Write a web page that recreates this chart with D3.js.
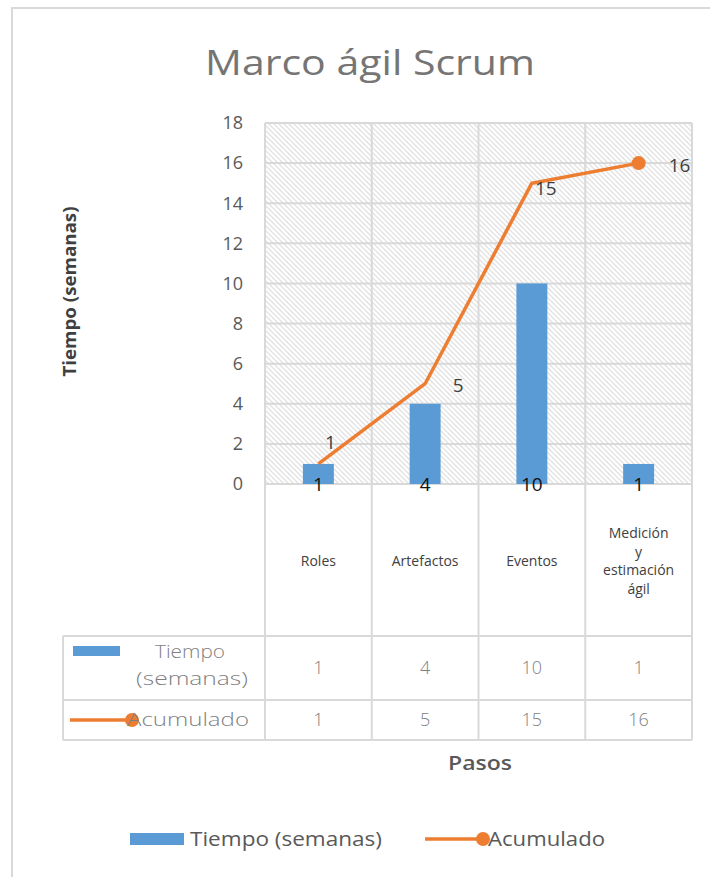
<!DOCTYPE html>
<html>
<head>
<meta charset="utf-8">
<script src="https://cdn.jsdelivr.net/npm/d3@7"></script>
<style>
  body { margin: 0; background: #fff; }
  text { font-family: "Open Sans", "Noto Sans", sans-serif; }
</style>
</head>
<body>
<div id="chart"></div>
<script>
// Data
const categories = ["Roles", "Artefactos", "Eventos", "Medición y estimación ágil"];
const tiempo = [1, 4, 10, 1];
const acumulado = [1, 5, 15, 16];
const yTicks = [0, 2, 4, 6, 8, 10, 12, 14, 16, 18];

// Label nudges for the line labels (as placed in the original)
const lineLabelOffset = [[12, -22], [33, 2], [14, 5], [41, 2]];

const width = 710;
const height = 877;
const blue = "#5B9BD5";
const orange = "#ED7D31";
const grid = "#d9d9d9";

const plot = { left: 265, right: 692, top: 123, bottom: 484 };

const svg = d3.select("#chart")
    .append("svg")
    .attr("width", width)
    .attr("height", height);

// Hatch pattern for the plot area
const defs = svg.append("defs");
const pat = defs.append("pattern")
    .attr("id", "hatch")
    .attr("patternUnits", "userSpaceOnUse")
    .attr("width", 5)
    .attr("height", 5);
pat.append("rect").attr("width", 5).attr("height", 5).attr("fill", "#fff");
pat.append("path")
    .attr("d", "M-1,-1 L6,6 M-1,4 L1,6 M4,-1 L6,1")
    .attr("stroke", "#e2e2e2")
    .attr("stroke-width", 1.3);

// Chart frame
svg.append("rect")
    .attr("x", 12).attr("y", 8)
    .attr("width", 720).attr("height", 900)
    .attr("fill", "#fff")
    .attr("stroke", "#d9d9d9")
    .attr("stroke-width", 2);

// Title
svg.append("text")
    .attr("x", 370)
    .attr("y", 75)
    .attr("text-anchor", "middle")
    .attr("textLength", 330)
    .attr("lengthAdjust", "spacingAndGlyphs")
    .style("font-size", "35px")
    .style("fill", "#757575")
    .text("Marco ágil Scrum");

// Scales
const x = d3.scaleBand()
    .domain(categories)
    .range([plot.left, plot.right])
    .padding(0);

const y = d3.scaleLinear()
    .domain([0, 18])
    .range([plot.bottom, plot.top]);

// Plot background
svg.append("rect")
    .attr("x", plot.left)
    .attr("y", plot.top)
    .attr("width", plot.right - plot.left)
    .attr("height", plot.bottom - plot.top)
    .attr("fill", "url(#hatch)");

// Horizontal gridlines
svg.append("g")
    .selectAll("line")
    .data(yTicks)
    .enter()
    .append("line")
    .attr("x1", plot.left)
    .attr("x2", plot.right)
    .attr("y1", d => y(d))
    .attr("y2", d => y(d))
    .attr("stroke", grid)
    .attr("stroke-width", 2);

// Vertical lines between categories (run through the table header too)
const tableTop = 636, row1 = 700, tableBottom = 740, tableLeft = 63;
const edges = categories.map(d => x(d)).concat([plot.right]);
svg.append("g")
    .selectAll("line")
    .data(edges)
    .enter()
    .append("line")
    .attr("x1", d => d)
    .attr("x2", d => d)
    .attr("y1", plot.top)
    .attr("y2", tableBottom)
    .attr("stroke", grid)
    .attr("stroke-width", 2);

// Table horizontal lines
svg.append("g")
    .selectAll("line")
    .data([tableTop, row1, tableBottom])
    .enter()
    .append("line")
    .attr("x1", tableLeft)
    .attr("x2", plot.right)
    .attr("y1", d => d)
    .attr("y2", d => d)
    .attr("stroke", grid)
    .attr("stroke-width", 2);
svg.append("line")
    .attr("x1", tableLeft).attr("x2", tableLeft)
    .attr("y1", tableTop).attr("y2", tableBottom)
    .attr("stroke", grid).attr("stroke-width", 2);

// Y tick labels
svg.append("g")
    .selectAll("text")
    .data(yTicks)
    .enter()
    .append("text")
    .attr("x", 243)
    .attr("y", d => y(d))
    .attr("dy", "0.35em")
    .attr("text-anchor", "end")
    .style("font-size", "18px")
    .style("fill", "#595959")
    .text(d => d);

// Y axis title
svg.append("text")
    .attr("transform", `translate(76, ${(plot.top + plot.bottom) / 2 - 12}) rotate(-90)`)
    .attr("text-anchor", "middle")
    .attr("textLength", 170)
    .attr("lengthAdjust", "spacingAndGlyphs")
    .style("font-size", "18px")
    .style("font-weight", "bold")
    .style("fill", "#404040")
    .text("Tiempo (semanas)");

// Bars
const barW = x.bandwidth() * 0.29;
svg.append("g")
    .selectAll("rect")
    .data(tiempo)
    .enter()
    .append("rect")
    .attr("x", (d, i) => x(categories[i]) + x.bandwidth() / 2 - barW / 2)
    .attr("y", d => y(d))
    .attr("width", barW)
    .attr("height", d => y(0) - y(d))
    .attr("fill", blue);

// Bar labels at the base
svg.append("g")
    .selectAll("text")
    .data(tiempo)
    .enter()
    .append("text")
    .attr("x", (d, i) => x(categories[i]) + x.bandwidth() / 2)
    .attr("y", y(0))
    .attr("dy", "0.35em")
    .attr("text-anchor", "middle")
    .style("font-size", "19px")
    .style("fill", "#111")
    .text(d => d);

// Line
const line = d3.line()
    .x((d, i) => x(categories[i]) + x.bandwidth() / 2)
    .y(d => y(d));

svg.append("path")
    .datum(acumulado)
    .attr("d", line)
    .attr("fill", "none")
    .attr("stroke", orange)
    .attr("stroke-width", 3.5)
    .attr("stroke-linejoin", "round");

// Marker only on the last point
const last = acumulado.length - 1;
svg.append("circle")
    .attr("cx", x(categories[last]) + x.bandwidth() / 2)
    .attr("cy", y(acumulado[last]))
    .attr("r", 7)
    .attr("fill", orange);

// Line labels
svg.append("g")
    .selectAll("text")
    .data(acumulado)
    .enter()
    .append("text")
    .attr("x", (d, i) => x(categories[i]) + x.bandwidth() / 2 + lineLabelOffset[i][0])
    .attr("y", (d, i) => y(d) + lineLabelOffset[i][1])
    .attr("dy", "0.35em")
    .attr("text-anchor", "middle")
    .style("font-size", "19px")
    .style("fill", "#404040")
    .text(d => d);

// Category labels in the table header
const catText = svg.append("g")
    .selectAll("text")
    .data(categories)
    .enter()
    .append("text")
    .attr("text-anchor", "middle")
    .style("font-size", "14px")
    .style("fill", "#404040");
catText.each(function (d) {
    const words = d === "Medición y estimación ágil"
        ? ["Medición", "y", "estimación", "ágil"] : [d];
    const cx = x(d) + x.bandwidth() / 2;
    const lh = 18.5;
    const y0 = 561 - (words.length - 1) * lh / 2;
    words.forEach((w, k) => {
        d3.select(this).append("tspan")
            .attr("x", cx)
            .attr("y", y0 + k * lh)
            .attr("dy", "0.35em")
            .text(w);
    });
});

// Table values
const rows = [
    { values: tiempo, cy: (tableTop + row1) / 2 },
    { values: acumulado, cy: (row1 + tableBottom) / 2 }
];
rows.forEach(r => {
    svg.append("g")
        .selectAll("text")
        .data(r.values)
        .enter()
        .append("text")
        .attr("x", (d, i) => x(categories[i]) + x.bandwidth() / 2)
        .attr("y", r.cy)
        .attr("dy", "0.35em")
        .attr("text-anchor", "middle")
        .style("font-size", "18px")
        .style("font-weight", "300")
        .style("fill", "#7f7f7f")
        .text(d => d);
});

// Legend keys inside the table
const keyText = (t, cx, cy, len) => svg.append("text")
    .attr("x", cx).attr("y", cy)
    .attr("dy", "0.35em")
    .attr("text-anchor", "middle")
    .attr("textLength", len)
    .attr("lengthAdjust", "spacingAndGlyphs")
    .style("font-size", "18px")
    .style("font-weight", "300")
    .style("fill", "#7f7f7f")
    .text(t);

svg.append("rect")
    .attr("x", 73).attr("y", 646)
    .attr("width", 47).attr("height", 10)
    .attr("fill", blue);
keyText("Tiempo", 190, 652, 70);
keyText("(semanas)", 192, 679, 112);
svg.append("line")
    .attr("x1", 70).attr("x2", 132)
    .attr("y1", 720).attr("y2", 720)
    .attr("stroke", orange).attr("stroke-width", 3.5);
svg.append("circle")
    .attr("cx", 132).attr("cy", 720).attr("r", 7)
    .attr("fill", orange);
keyText("Acumulado", 188, 720, 122);

// X axis title
svg.append("text")
    .attr("x", 480).attr("y", 763)
    .attr("dy", "0.35em")
    .attr("text-anchor", "middle")
    .attr("textLength", 64)
    .attr("lengthAdjust", "spacingAndGlyphs")
    .style("font-size", "19px")
    .style("font-weight", "600")
    .style("fill", "#595959")
    .text("Pasos");

// Bottom legend
const legend = svg.append("g").attr("class", "legend");
legend.append("rect")
    .attr("x", 130).attr("y", 833)
    .attr("width", 54).attr("height", 12)
    .attr("fill", blue);
legend.append("text")
    .attr("x", 190).attr("y", 839)
    .attr("dy", "0.35em")
    .attr("textLength", 192)
    .attr("lengthAdjust", "spacingAndGlyphs")
    .style("font-size", "20px")
    .style("fill", "#595959")
    .text("Tiempo (semanas)");
legend.append("line")
    .attr("x1", 425).attr("x2", 483)
    .attr("y1", 839).attr("y2", 839)
    .attr("stroke", orange).attr("stroke-width", 3.5);
legend.append("circle")
    .attr("cx", 483).attr("cy", 839).attr("r", 7)
    .attr("fill", orange);
legend.append("text")
    .attr("x", 488).attr("y", 839)
    .attr("dy", "0.35em")
    .attr("textLength", 117)
    .attr("lengthAdjust", "spacingAndGlyphs")
    .style("font-size", "20px")
    .style("fill", "#595959")
    .text("Acumulado");
</script>
</body>
</html>
